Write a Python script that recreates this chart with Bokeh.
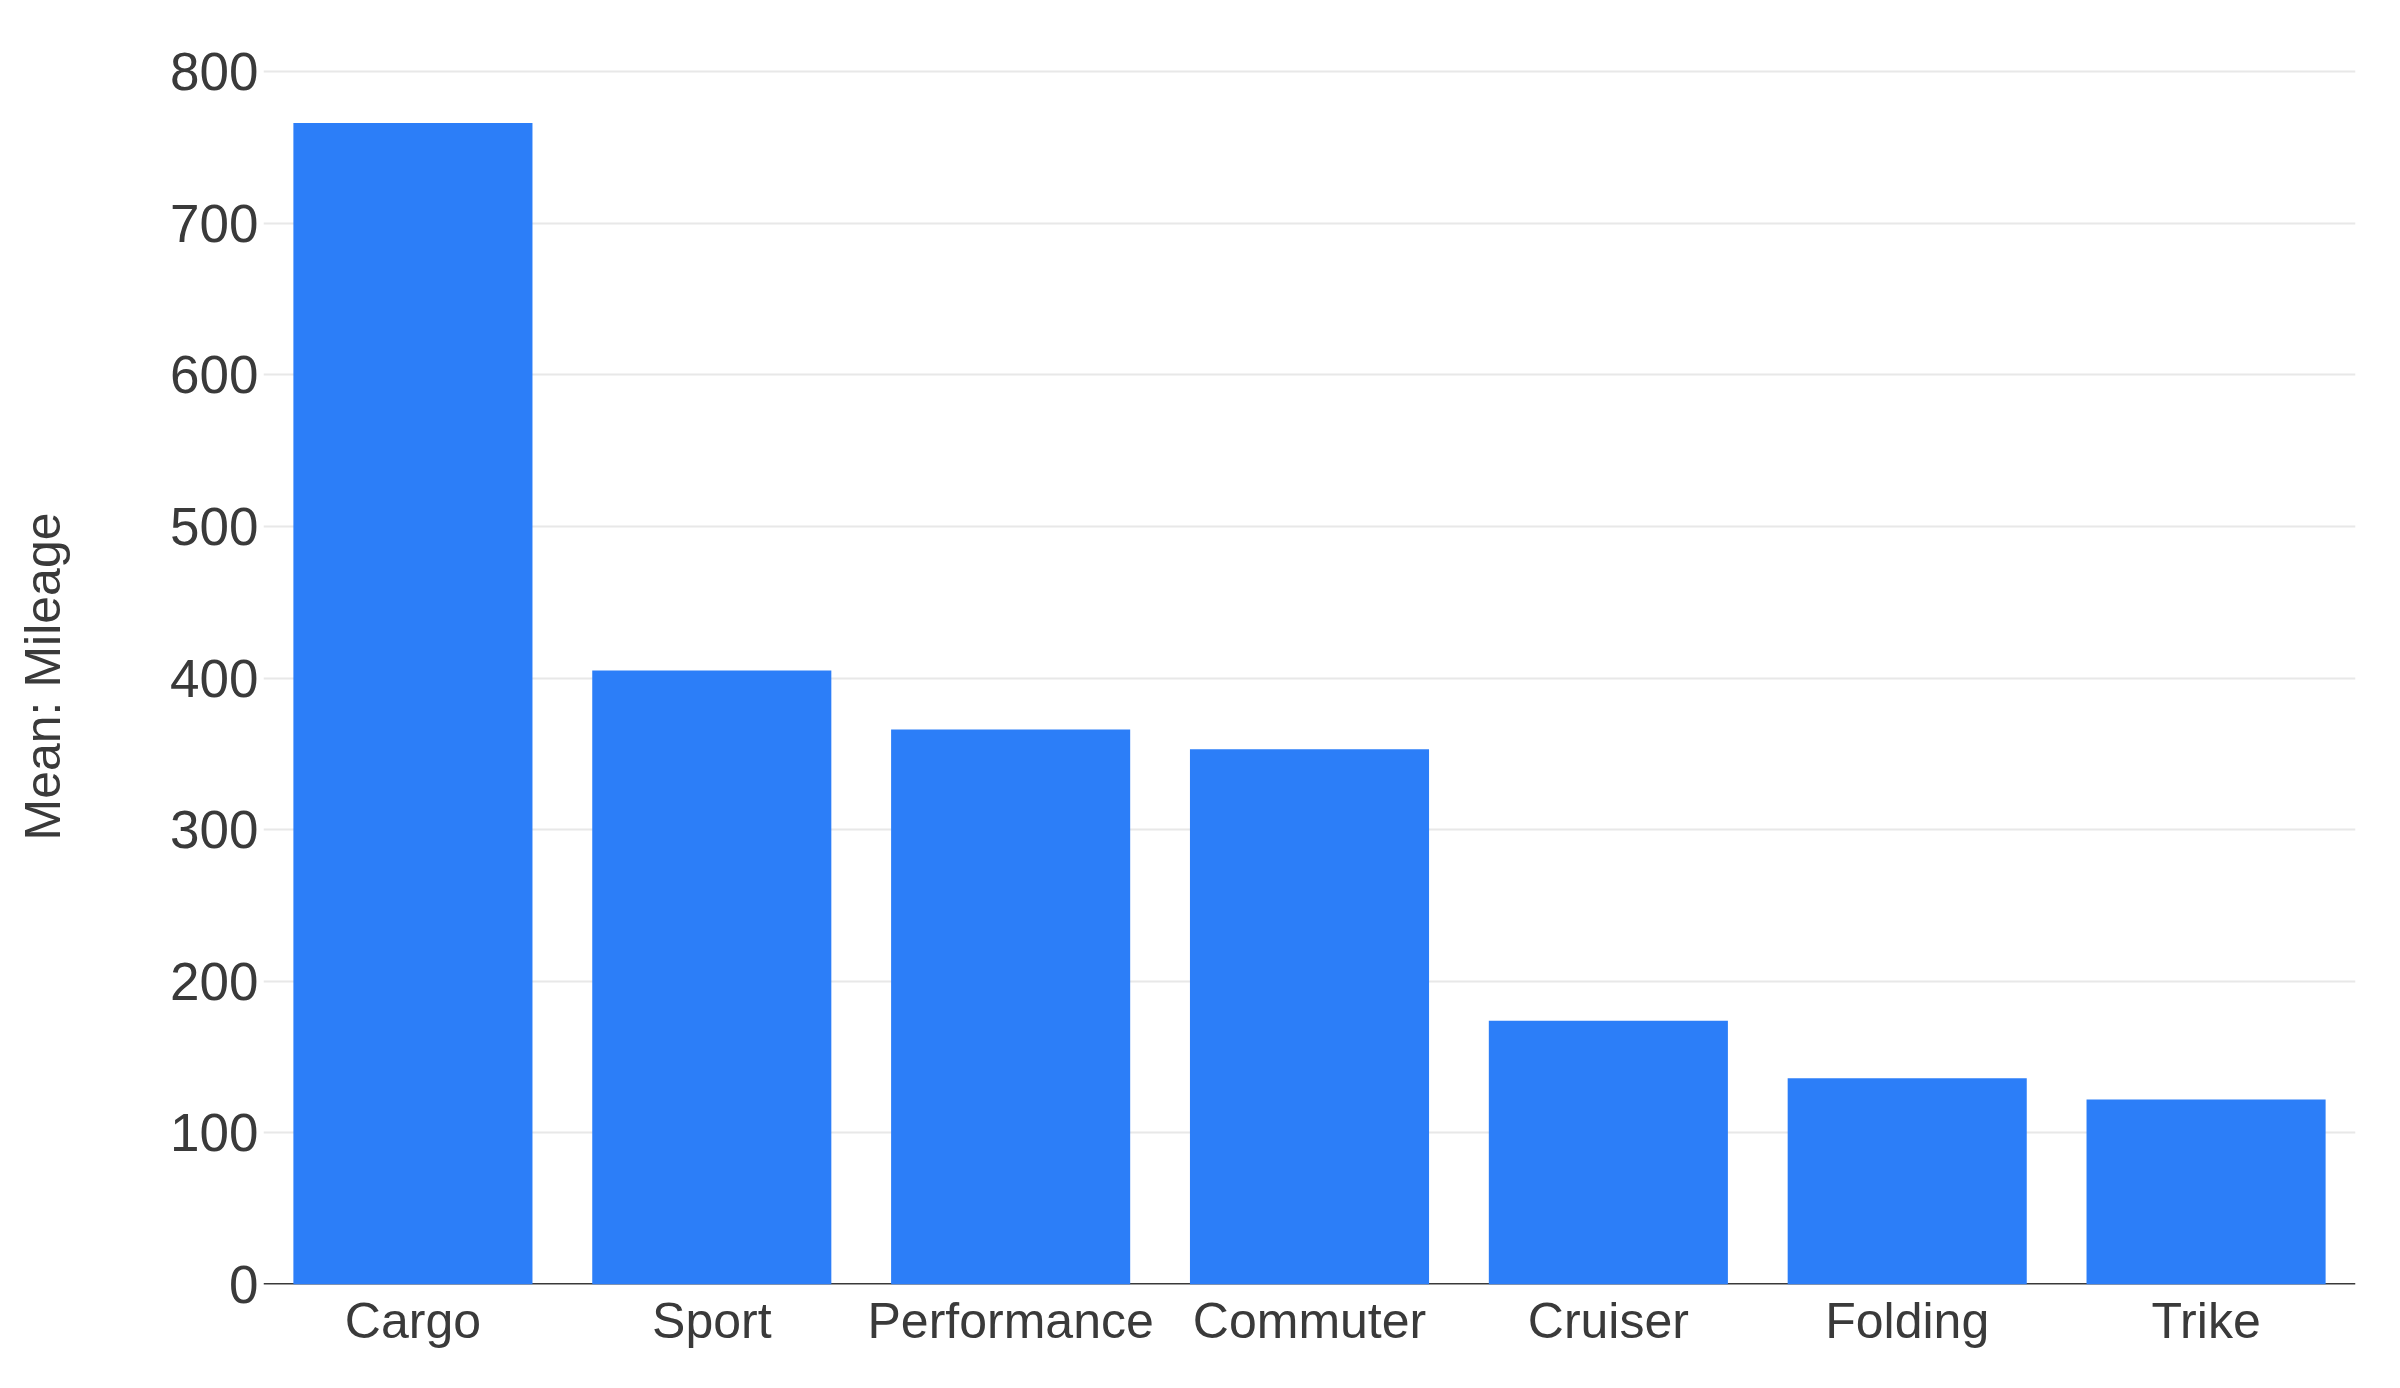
from bokeh.plotting import figure
from bokeh.models import FixedTicker, Span
from bokeh.embed import file_html
from bokeh.resources import INLINE

categories = ["Cargo", "Sport", "Performance", "Commuter", "Cruiser", "Folding", "Trike"]
mean_mileage = [766, 405, 366, 353, 174, 136, 122]
y_ticks = [0, 100, 200, 300, 400, 500, 600, 700, 800]

FONT = "Liberation Sans"
TEXT = "#3a3a3a"

p = figure(x_range=categories, y_range=(0, 802), width=2384, height=1372,
           output_backend="svg", toolbar_location=None,
           min_border_left=263, min_border_right=29, min_border_top=68, min_border_bottom=88)
p.outline_line_color = None

base = Span(location=0, dimension="width", line_color="#3a3a3a", line_width=3, level="underlay")
p.add_layout(base)

p.vbar(x=categories, top=mean_mileage, width=0.8, fill_color="#2c7ef8", line_color=None)

p.xgrid.grid_line_color = None
p.ygrid.grid_line_color = "#e8e8e8"
p.ygrid.grid_line_width = 2
p.ygrid.ticker = FixedTicker(ticks=y_ticks)

p.yaxis.ticker = FixedTicker(ticks=y_ticks)
p.yaxis.axis_line_color = None
p.yaxis.major_tick_line_color = None
p.yaxis.minor_tick_line_color = None
p.yaxis.major_tick_out = 0
p.yaxis.major_tick_in = 0
p.yaxis.major_label_standoff = 5
p.yaxis.axis_label = "Mean: Mileage"
p.yaxis.axis_label_standoff = 96
p.yaxis.axis_label_text_font_style = "normal"

p.xaxis.axis_line_color = None
p.xaxis.major_tick_line_color = None
p.xaxis.minor_tick_line_color = None
p.xaxis.major_tick_out = 0
p.xaxis.major_tick_in = 0
p.xaxis.major_label_standoff = 8

for ax in (p.xaxis, p.yaxis):
    ax.major_label_text_font = FONT
    ax.major_label_text_color = TEXT
    ax.axis_label_text_font = FONT
    ax.axis_label_text_font_size = "50px"
    ax.axis_label_text_color = TEXT
p.xaxis.major_label_text_font_size = "50px"
p.yaxis.major_label_text_font_size = "53px"

open("out.html", "w").write(file_html(p, INLINE))
